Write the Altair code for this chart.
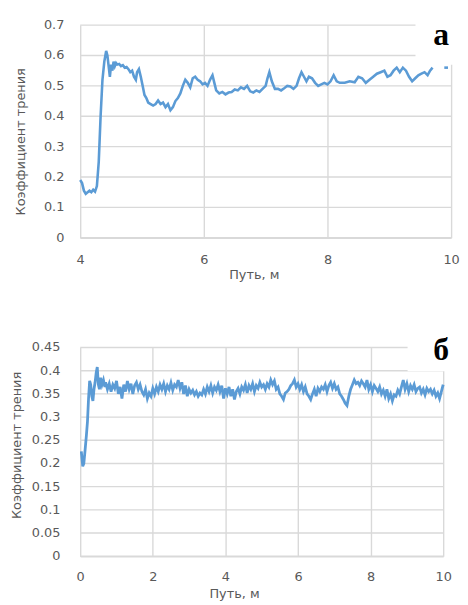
import altair as alt
import pandas as pd

BLUE = "#5b9bd5"
GRID = "#d9d9d9"
TXT = "#595959"

# ---- Chart (а): friction coefficient vs path, 4..10 m ----
top_x = [4.00, 4.03, 4.06, 4.09, 4.12, 4.15, 4.18, 4.21, 4.24, 4.27,
         4.30, 4.33, 4.36, 4.39, 4.42, 4.44, 4.46, 4.48, 4.50, 4.52,
         4.54, 4.56, 4.58, 4.60, 4.63, 4.66, 4.69, 4.72, 4.75, 4.78,
         4.81, 4.84, 4.87, 4.90, 4.92, 4.95, 4.98, 5.01, 5.04, 5.07,
         5.10, 5.14, 5.18, 5.22, 5.26, 5.30, 5.34, 5.38, 5.42, 5.46,
         5.50, 5.54, 5.58, 5.62, 5.66, 5.70, 5.74, 5.78, 5.82, 5.86,
         5.90, 5.94, 5.98, 6.02, 6.06, 6.10, 6.14, 6.17, 6.20, 6.25,
         6.30, 6.35, 6.40, 6.45, 6.50, 6.55, 6.60, 6.65, 6.70, 6.75,
         6.80, 6.85, 6.90, 6.95, 7.00, 7.03, 7.06, 7.10, 7.15, 7.20,
         7.25, 7.30, 7.35, 7.40, 7.45, 7.50, 7.54, 7.58, 7.62, 7.66,
         7.70, 7.75, 7.80, 7.85, 7.90, 7.95, 8.00, 8.05, 8.10, 8.15,
         8.20, 8.28, 8.36, 8.44, 8.50, 8.56, 8.62, 8.68, 8.74, 8.80,
         8.86, 8.92, 8.97, 9.02, 9.07, 9.12, 9.17, 9.22, 9.27, 9.32,
         9.37, 9.42, 9.47, 9.52, 9.57, 9.62, 9.66, 9.70]
top_y = [0.190, 0.180, 0.155, 0.145, 0.150, 0.155, 0.150, 0.158, 0.152, 0.170,
         0.250, 0.400, 0.520, 0.580, 0.615, 0.600, 0.565, 0.530, 0.570, 0.550,
         0.580, 0.565, 0.575, 0.570, 0.572, 0.565, 0.568, 0.560, 0.562, 0.555,
         0.545, 0.550, 0.530, 0.520, 0.545, 0.555, 0.530, 0.500, 0.470, 0.460,
         0.445, 0.440, 0.435, 0.440, 0.452, 0.440, 0.445, 0.430, 0.440, 0.420,
         0.430, 0.450, 0.460, 0.475, 0.500, 0.520, 0.510, 0.495, 0.525, 0.530,
         0.520, 0.515, 0.505, 0.510, 0.500, 0.520, 0.535, 0.510, 0.485, 0.475,
         0.480, 0.472, 0.478, 0.480, 0.488, 0.485, 0.495, 0.490, 0.500, 0.482,
         0.478, 0.485, 0.480, 0.490, 0.500, 0.525, 0.545, 0.515, 0.490, 0.490,
         0.485, 0.492, 0.500, 0.498, 0.490, 0.500, 0.525, 0.545, 0.530, 0.515,
         0.530, 0.525, 0.510, 0.500, 0.505, 0.510, 0.505, 0.515, 0.535, 0.515,
         0.510, 0.510, 0.515, 0.512, 0.530, 0.525, 0.510, 0.520, 0.530, 0.540,
         0.545, 0.550, 0.530, 0.535, 0.550, 0.560, 0.545, 0.560, 0.550, 0.530,
         0.515, 0.525, 0.535, 0.540, 0.545, 0.535, 0.550, 0.560]
top_tail_x = [9.89, 9.95]
top_tail_y = [0.560, 0.560]
top_x_ticks = [4, 6, 8, 10]
top_y_ticks = [0, 0.1, 0.2, 0.3, 0.4, 0.5, 0.6, 0.7]
top_y_labels = ["0", "0.1", "0.2", "0.3", "0.4", "0.5", "0.6", "0.7"]

# ---- Chart (б): friction coefficient vs path, 0..10 m ----
bot_x_start = [0.03, 0.07, 0.10, 0.13, 0.17, 0.20, 0.23, 0.26, 0.29, 0.32,
               0.35, 0.38, 0.41, 0.44, 0.47, 0.50, 0.53, 0.56, 0.60, 0.64, 0.68]
bot_y_start = [0.226, 0.194, 0.200, 0.225, 0.260, 0.290, 0.340, 0.378, 0.370, 0.345,
               0.335, 0.360, 0.375, 0.395, 0.408, 0.370, 0.360, 0.385, 0.370, 0.380, 0.365]
# samples every 0.05 m from 0.70 m to 9.95 m
bot_y_main = [
    0.375, 0.360, 0.372, 0.355, 0.370, 0.362, 0.378, 0.350, 0.365, 0.340,
    0.370, 0.355, 0.378, 0.360, 0.372, 0.350, 0.368, 0.375, 0.360, 0.370,
    0.355, 0.348, 0.360, 0.340, 0.352, 0.345, 0.362, 0.350, 0.365, 0.355,
    0.370, 0.360, 0.372, 0.355, 0.368, 0.360, 0.374, 0.358, 0.370, 0.365,
    0.380, 0.362, 0.375, 0.350, 0.368, 0.345, 0.360, 0.352, 0.358, 0.348,
    0.355, 0.345, 0.352, 0.348, 0.360, 0.350, 0.365, 0.355, 0.368, 0.352,
    0.365, 0.358, 0.370, 0.355, 0.368, 0.340, 0.362, 0.350, 0.365, 0.345,
    0.360, 0.338, 0.355, 0.362, 0.350, 0.365, 0.358, 0.370, 0.352, 0.368,
    0.360, 0.372, 0.355, 0.368, 0.362, 0.375, 0.365, 0.370, 0.360, 0.372,
    0.365, 0.380, 0.370, 0.378, 0.360, 0.365, 0.350, 0.345, 0.338, 0.352,
    0.355, 0.360, 0.368, 0.372, 0.380, 0.365, 0.372, 0.360, 0.370, 0.355,
    0.365, 0.350, 0.345, 0.338, 0.350, 0.360, 0.345, 0.362, 0.355, 0.365,
    0.360, 0.370, 0.355, 0.368, 0.375, 0.362, 0.372, 0.360, 0.365, 0.350,
    0.345, 0.338, 0.330, 0.325, 0.345, 0.360, 0.370, 0.380, 0.372, 0.375,
    0.368, 0.378, 0.372, 0.365, 0.380, 0.360, 0.370, 0.355, 0.368, 0.362,
    0.355, 0.365, 0.350, 0.358, 0.345, 0.360, 0.340, 0.350, 0.335, 0.348,
    0.345, 0.358, 0.350, 0.365, 0.380, 0.360, 0.372, 0.355, 0.368, 0.360,
    0.370, 0.355, 0.362, 0.365, 0.352, 0.360, 0.348, 0.362, 0.355, 0.360,
    0.350, 0.358, 0.345, 0.352, 0.340, 0.355]
bot_x_end = [10.0]
bot_y_end = [0.370]
bot_x_ticks = [0, 2, 4, 6, 8, 10]
bot_y_ticks = [0, 0.05, 0.1, 0.15, 0.2, 0.25, 0.3, 0.35, 0.4, 0.45]
bot_y_labels = ["0", "0.05", "0.1", "0.15", "0.2", "0.25", "0.3", "0.35", "0.4", "0.45"]

bot_x_main = [round(0.70 + 0.05 * k, 2) for k in range(len(bot_y_main))]

top_df = pd.DataFrame({
    "x": top_x + top_tail_x,
    "y": top_y + top_tail_y,
    "seg": [0] * len(top_x) + [1] * len(top_tail_x),
})
bot_df = pd.DataFrame({
    "x": bot_x_start + bot_x_main + bot_x_end,
    "y": bot_y_start + bot_y_main + bot_y_end,
    "seg": [0] * (len(bot_x_start) + len(bot_x_main) + len(bot_x_end)),
})
one = pd.DataFrame({"k": [0]})

X_TITLE = "Путь, м"
Y_TITLE = "Коэффициент трения"

W_TOP, H_TOP = 375, 215
W_BOT, H_BOT = 367, 211


def panel(df, xdom, ydom, xt, yt, ylabels, xlab_pad, ylab_x, xt_pos, yt_pos,
          w, h, sw, box, label, label_y):
    xscale = alt.Scale(domain=xdom, nice=False, zero=False)
    yscale = alt.Scale(domain=ydom, nice=False)
    xaxis = alt.Axis(values=xt, title=None, labelPadding=xlab_pad, ticks=False,
                     grid=True, labelFlush=False)
    tick_df = pd.DataFrame({"gy": yt, "lab": ylabels})
    grid = alt.Chart(tick_df).mark_rule(color=GRID, strokeWidth=1.4).encode(
        y=alt.Y("gy:Q", scale=yscale, axis=None))
    ylab = alt.Chart(tick_df).mark_text(
        font="DejaVu Sans", fontSize=13, color=TXT, align="right",
        baseline="middle").encode(
        y=alt.Y("gy:Q", scale=yscale, axis=None),
        x=alt.value(ylab_x),
        text="lab:N")
    line = alt.Chart(df).mark_line(color=BLUE, strokeWidth=sw).encode(
        x=alt.X("x:Q", scale=xscale, axis=xaxis),
        y=alt.Y("y:Q", scale=yscale, axis=None),
        detail="seg:N",
    )
    cover = alt.Chart(one).mark_rect(color="white").encode(
        x=alt.value(box[0]), x2=alt.value(box[1]), y=alt.value(box[2]), y2=alt.value(box[3]))
    txt = alt.Chart(one).mark_text(
        text=label, font="Liberation Serif", fontWeight="bold", fontSize=32,
        align="center", baseline="alphabetic", color="black").encode(
        x=alt.value(365), y=alt.value(label_y))
    xtitle = alt.Chart(one).mark_text(
        text=X_TITLE, font="DejaVu Sans", fontSize=13, color=TXT,
        align="center", baseline="middle").encode(
        x=alt.value(xt_pos[0]), y=alt.value(xt_pos[1]))
    ytitle = alt.Chart(one).mark_text(
        text=Y_TITLE, font="DejaVu Sans", fontSize=13, color=TXT, angle=270,
        align="center", baseline="middle").encode(
        x=alt.value(yt_pos[0]), y=alt.value(yt_pos[1]))
    return alt.layer(grid, line, cover, txt, ylab, xtitle, ytitle).properties(width=w, height=h)


top = panel(top_df, [4, 10], [0, 0.7], top_x_ticks, top_y_ticks, top_y_labels,
            16, -16, (176, H_TOP + 38), (-60, 118), W_TOP, H_TOP, 2.6,
            (339, W_TOP + 6, -4, 40), "а", 20)
bottom = panel(bot_df, [0, 10], [0, 0.45], bot_x_ticks, bot_y_ticks, bot_y_labels,
               15, -20, (156, H_BOT + 38), (-64, 99), W_BOT, H_BOT, 2.8,
               (331, W_BOT + 14, -20, 24), "б", 13)

chart = alt.vconcat(top, bottom, spacing=111, bounds="flush").properties(
    padding={"left": 3, "top": 8, "right": 0, "bottom": 0}
).configure_view(stroke=None).configure_axis(
    labelColor=TXT, labelFont="DejaVu Sans", labelFontSize=13,
    gridColor=GRID, gridWidth=1.4, domainColor=GRID, domainWidth=1.4,
)

chart.save("out.html", embed_options={"renderer": "svg", "actions": False})
